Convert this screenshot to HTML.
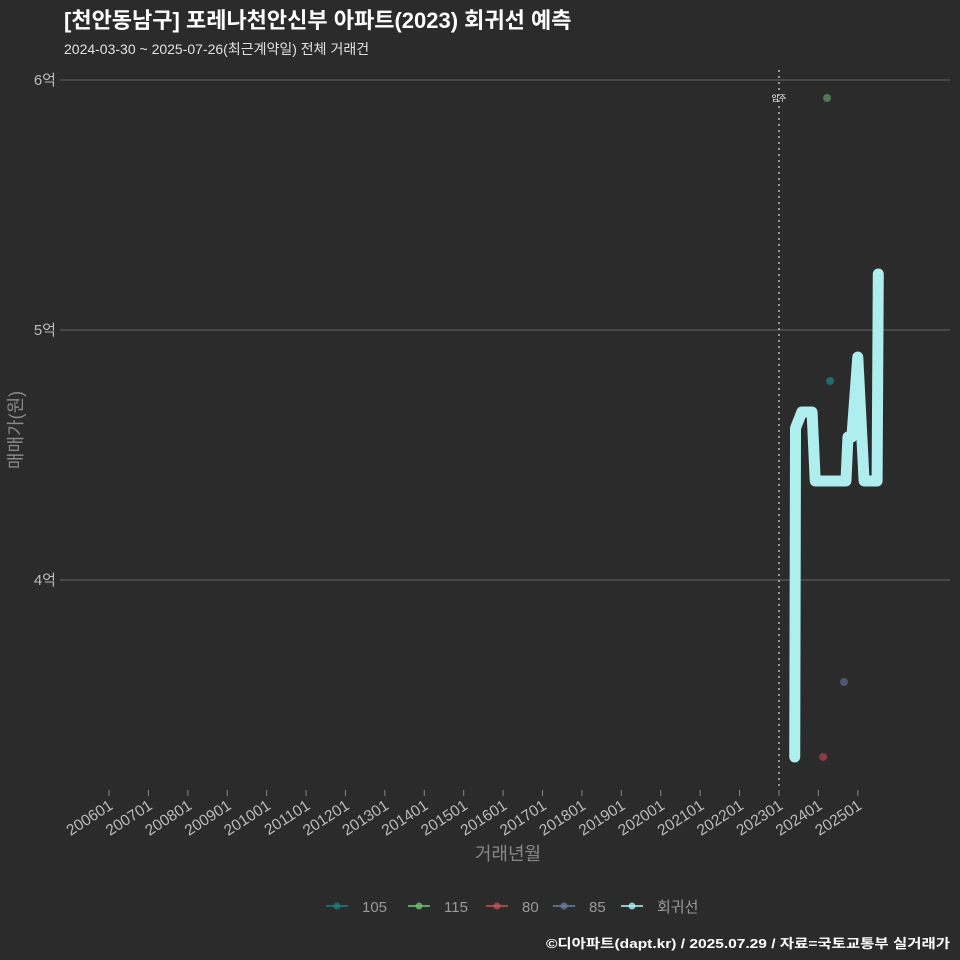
<!DOCTYPE html>
<html><head><meta charset="utf-8"><style>
html,body{margin:0;background:#2b2b2b;overflow:hidden;width:960px;height:960px;}
svg{display:block;}
svg text{font-family:"Liberation Sans","Noto Sans CJK KR",sans-serif;}
</style></head><body>
<svg width="960" height="960" xmlns="http://www.w3.org/2000/svg">
<rect width="960" height="960" fill="#2b2b2b"/>
<text x="64" y="28" font-size="22" font-weight="bold" fill="#ffffff">[천안동남구] 포레나천안신부 아파트(2023) 회귀선 예측</text>
<text x="64" y="54" font-size="14" fill="#e0e0e0">2024-03-30 ~ 2025-07-26(최근계약일) 전체 거래건</text>
<g id="grid"></g><g id="xaxis"></g><g id="marks"></g>
<text transform="translate(22,430) rotate(-90)" text-anchor="middle" font-size="18" fill="#888">매매가(원)</text>
<text x="508" y="860" text-anchor="middle" font-size="18" fill="#888">거래년월</text>
<g id="legend"></g>
<text x="950" y="948" text-anchor="end" font-size="13" font-weight="bold" fill="#fff" textLength="404" lengthAdjust="spacingAndGlyphs">©디아파트(dapt.kr) / 2025.07.29 / 자료=국토교통부 실거래가</text>
</svg>
<script>
const ns="http://www.w3.org/2000/svg";
const yTicks=[60000,50000,40000];
const yTickLabels=["6억","5억","4억"];
const xTickYears=[2006,2007,2008,2009,2010,2011,2012,2013,2014,2015,2016,2017,2018,2019,2020,2021,2022,2023,2024,2025];
const lineDates=[2023.40,2023.42,2023.58,2023.84,2023.92,2024.70,2024.75,2024.85,2025.0,2025.16,2025.49,2025.52];
const lineValues=[32920,46080,46720,46720,43960,43960,45720,45720,48920,43960,43960,52240];
const ptSeries=["115","105","85","80"];
const ptDates=[2024.22,2024.30,2024.65,2024.12];
const ptValues=[59280,47960,35920,32920];
const ptColors={"105":"#1f6a6a","115":"#4f7a4f","80":"#8a3a42","85":"#4f5870"};
const legendNames=["105","115","80","85","회귀선"];
const legendColors=["#1f7a7a","#6fbf6f","#c0505a","#6a7aa0","#aeeeee"];
const moveInYear=2023.0;
const X=t=>109+(t-2006)*39.41;
const Y=v=>80+(60000-v)*0.025;
function el(tag,attrs,parent,text){const e=document.createElementNS(ns,tag);for(const k in attrs)e.setAttribute(k,attrs[k]);if(text!==undefined)e.textContent=text;parent.appendChild(e);return e;}
const grid=document.getElementById('grid');
yTicks.forEach((v,i)=>{
 const l=el('line',{x1:60,x2:950,y1:Y(v),y2:Y(v),stroke:'#5a5a5a','stroke-width':1.2},grid);
 
 
 const t=el('text',{x:56,y:Y(v)+5,'text-anchor':'end','font-size':15,fill:'#bbb'},grid,yTickLabels[i]);
 
 
});
const xa=document.getElementById('xaxis');
xTickYears.forEach(yr=>{
 const x=X(yr);
 const tk=el('line',{x1:x,x2:x,y1:790,y2:796,stroke:'#888'},xa);
 
 
 const t=el('text',{transform:`translate(${x+5},${808}) rotate(-33)`,'text-anchor':'end','font-size':15.5,fill:'#bbb'},xa,yr+"01");
 
 
});
const m=document.getElementById('marks');
const mv=el('line',{x1:X(moveInYear),x2:X(moveInYear),y1:70,y2:790,stroke:'#bbb','stroke-width':1.5,'stroke-dasharray':'2,4'},m);


const mt=el('text',{x:X(moveInYear),y:101,'text-anchor':'middle','font-size':8,fill:'#fff'},m,'입주');


const pl=el('polyline',{points:lineDates.map((d,i)=>X(d)+','+Y(lineValues[i])).join(' '),fill:'none',stroke:'#aeeeee','stroke-width':11,'stroke-linejoin':'round','stroke-linecap':'round'},m);


ptSeries.forEach((s,i)=>{
 const c=el('circle',{cx:X(ptDates[i]),cy:Y(ptValues[i]),r:4,fill:ptColors[s]},m);
 
 
});
const lg=document.getElementById('legend');
const lx=[326,408,486,553,621];
legendNames.forEach((n,i)=>{
 const g=el('g',{},lg);
 
 
 el('line',{x1:lx[i],x2:lx[i]+22,y1:906,y2:906,stroke:legendColors[i],'stroke-width':2,opacity:0.8},g);
 el('circle',{cx:lx[i]+11,cy:906,r:3.5,fill:legendColors[i],opacity:0.8},g);
 el('text',{x:lx[i]+36,y:912,'font-size':15,fill:'#999'},g,n);
});
</script>
</body></html>
